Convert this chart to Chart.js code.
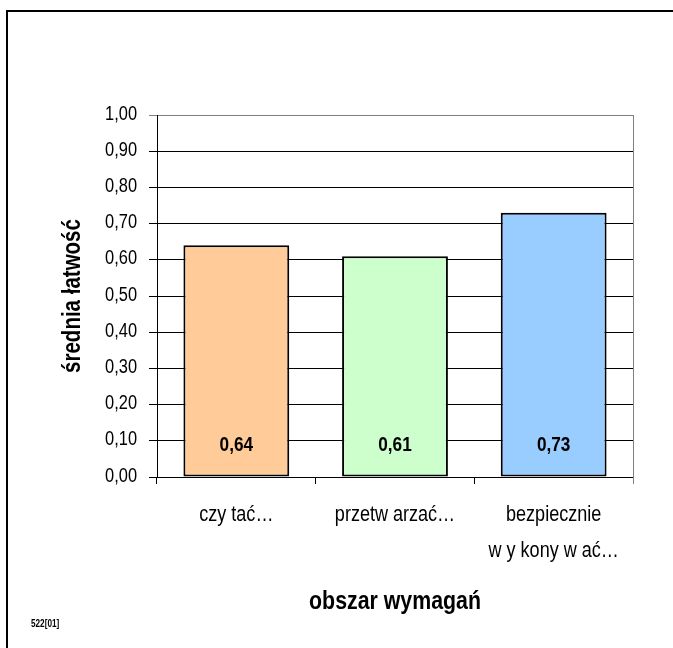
<!DOCTYPE html>
<html><head><meta charset="utf-8">
<script src="https://cdn.jsdelivr.net/npm/chart.js@4/dist/chart.umd.min.js"></script>
<style>html,body{margin:0;padding:0;background:#fff}canvas{display:block}</style>
</head><body>
<canvas id="c" width="673" height="648"></canvas>
<script>
const categories = [['czy tać…'], ['przetw arzać…'], ['bezpiecznie', 'w y kony w ać…']];
const values = [0.64, 0.61, 0.73];
const valueLabels = ['0,64', '0,61', '0,73'];
const barColors = ['#FFCC99', '#CCFFCC', '#99CCFF'];
const yTicks = [0, 0.1, 0.2, 0.3, 0.4, 0.5, 0.6, 0.7, 0.8, 0.9, 1.0];
const xTitle = 'obszar wymagań';
const yTitle = 'średnia łatwość';
const footnote = '522[01]';

const FAMILY = "'Liberation Sans', Arial, sans-serif";
const NARROW_X = 0.82; // emulate a condensed face

function narrowText(ctx, text, x, y, font, align, rot) {
  ctx.save();
  ctx.translate(x, y);
  if (rot) ctx.rotate(rot);
  ctx.scale(NARROW_X, 1);
  ctx.font = font;
  ctx.textAlign = align;
  ctx.textBaseline = 'middle';
  ctx.fillStyle = '#000';
  ctx.fillText(text, 0, 0);
  ctx.restore();
}

const decor = {
  id: 'decor',
  afterDraw(chart) {
    const ctx = chart.ctx;
    const a = chart.chartArea;
    const xs = chart.scales.x, ys = chart.scales.y;
    ctx.save();
    // outer frame
    ctx.fillStyle = '#000';
    ctx.fillRect(6, 10, 2, 648);
    ctx.fillRect(6, 10, 673, 2);
    // right border of plot area
    ctx.strokeStyle = '#808080';
    ctx.lineWidth = 1;
    ctx.beginPath();
    ctx.moveTo(Math.round(a.right) + 0.5, a.top);
    ctx.lineTo(Math.round(a.right) + 0.5, a.bottom + 7);
    ctx.stroke();
    ctx.restore();
    // y tick labels
    yTicks.forEach(v => {
      narrowText(ctx, v.toFixed(2).replace('.', ','), 137, ys.getPixelForValue(v) - 1,
        '20px ' + FAMILY, 'right');
    });
    // x category labels
    categories.forEach((lines, i) => {
      const x = xs.getPixelForValue(i);
      lines.forEach((t, j) => {
        narrowText(ctx, t, x, a.bottom + 38 + j * 36, '22px ' + FAMILY, 'center');
      });
    });
    // value labels
    const meta = chart.getDatasetMeta(0);
    meta.data.forEach((bar, i) => {
      narrowText(ctx, valueLabels[i], bar.x, bar.base - 31, 'bold 21px ' + FAMILY, 'center');
    });
    // axis titles
    narrowText(ctx, xTitle, (a.left + a.right) / 2, 602, 'bold 26px ' + FAMILY, 'center');
    narrowText(ctx, yTitle, 73, (a.top + a.bottom) / 2, 'bold 25px ' + FAMILY, 'center', -Math.PI / 2);
    // footnote
    narrowText(ctx, footnote, 31, 624, 'bold 10px ' + FAMILY, 'left');
  }
};

new Chart(document.getElementById('c'), {
  type: 'bar',
  data: {
    labels: categories,
    datasets: [{
      data: values,
      backgroundColor: barColors,
      borderColor: '#000',
      borderWidth: 2,
      borderSkipped: false,
      categoryPercentage: 1.0,
      barPercentage: 0.667
    }]
  },
  options: {
    responsive: false,
    animation: false,
    devicePixelRatio: 1,
    layout: { padding: { left: 0, top: 115, right: 40, bottom: 0 } },
    plugins: { legend: { display: false }, tooltip: { enabled: false } },
    scales: {
      x: {
        offset: true,
        grid: { display: true, drawOnChartArea: false, offset: true, tickLength: 7, color: '#000', tickColor: '#000' },
        border: { display: true, color: '#000', width: 1 },
        ticks: { display: false },
        afterFit(s) { s.height = 171; }
      },
      y: {
        min: 0, max: 1,
        afterBuildTicks(s) { s.ticks = yTicks.map(v => ({ value: v })); },
        grid: {
          tickLength: 8,
          color: c => (c.tick && c.tick.value === 1 ? '#808080' : '#000'),
          tickColor: c => (c.tick && c.tick.value === 1 ? '#808080' : '#000')
        },
        border: { display: true, color: '#000', width: 1 },
        ticks: { display: false },
        afterFit(s) { s.width = 157; }
      }
    }
  },
  plugins: [decor]
});
</script>
</body></html>
